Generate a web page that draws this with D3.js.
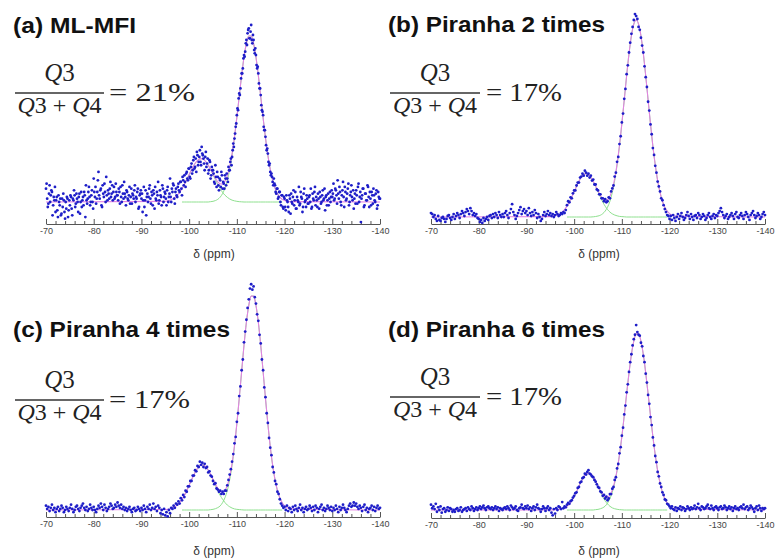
<!DOCTYPE html>
<html><head><meta charset="utf-8">
<script src="https://cdn.jsdelivr.net/npm/d3@7"></script>
<style>body{margin:0;background:#fff}svg{display:block}</style>
</head><body>
<svg id="c" width="776" height="558"></svg>
<script>
// ---------- data ----------
const panelTitles = ["(a) ML-MFI", "(b) Piranha 2 times", "(c) Piranha 4 times", "(d) Piranha 6 times"];
const ratioLabels = ["21%", "17%", "17%", "17%"];
const tickValues = [-70, -80, -90, -100, -110, -120, -130, -140];
const tickLabels = ["-70", "-80", "-90", "-100", "-110", "-120", "-130", "-140"];
const axisTitle = "δ (ppm)";

// measured spectra, ppm -70 .. -140 every 0.25 ppm (intensity: baseline 0, main fit peak 100)
const specA = [
 8,2,-1,10,4,6,-2,1,-6,3,-9,0,2,-7,-3,1,-10,-4,2,-5,
 -2,3,-8,1,4,-1,2,-6,5,0,-3,3,6,-9,1,2,9,-2,4,0,
 14,3,-1,6,18,2,8,-3,5,11,0,4,7,2,12,5,1,9,3,6,
 4,8,-1,3,10,2,5,-2,6,1,9,3,-1,4,7,0,2,8,-3,5,
 2,-6,9,1,-8,5,3,10,-1,4,7,-4,2,6,12,1,4,-2,8,3,
 5,-2,9,3,14,0,6,10,-1,8,3,11,6,12,4,13,16,9,18,13,
 20,14,23,19,27,21,18,28,24,31,22,29,26,19,30,23,17,25,14,21,
 19,12,22,9,15,7,13,18,8,11,16,10,14,21,19,26,27,35,38,45,
 52,55,65,68,77,80,88,90,97,101,104,98,106,95,97,89,88,80,77,68,
 64,55,52,43,39,31,29,22,18,17,12,14,10,5,8,3,6,-2,4,-4,
 2,-5,1,-3,4,-7,0,3,-2,6,-4,1,9,-1,3,-6,5,0,-3,2,
 -1,4,8,-3,2,6,-2,1,5,-4,3,0,7,2,-5,4,1,-2,6,3,
 3,11,2,7,-1,5,9,0,4,12,-3,6,2,8,-2,4,10,1,-4,5,
 7,-1,11,3,-12,4,8,-2,5,1,9,-3,2,6,-1,4,0,7,-2,3,
 2];
// panel (a) second interleaved scan points, ppm -70.125 .. -139.875 every 0.25 ppm
const specA2 = [
 11,-3,5,0,7,-8,3,9,1,-5,4,-2,-8,2,5,-6,0,3,-9,1,
 4,-4,2,7,-3,5,0,3,-7,6,1,-2,4,10,-1,6,3,0,7,-4,
 6,9,2,13,4,7,-2,10,3,6,15,1,5,8,3,10,6,2,11,4,
 1,6,9,0,5,12,3,7,2,4,-1,8,5,2,10,3,6,-4,4,7,
 5,1,-3,7,3,0,8,2,6,-2,5,9,1,4,-1,7,3,10,0,6,
 2,7,0,5,3,8,11,2,6,4,9,7,12,8,15,10,12,17,14,20,
 15,21,17,25,20,26,30,22,27,24,33,28,23,27,21,26,19,24,16,19,
 17,11,15,18,10,14,9,16,12,8,14,17,12,19,24,22,31,33,41,47,
 56,62,64,74,77,86,87,95,94,103,98,102,97,100,91,92,82,81,71,68,
 58,54,45,43,34,32,24,23,16,15,10,11,6,8,2,6,0,4,-3,3,
 -3,4,0,-6,2,5,-1,7,1,-4,3,0,-2,6,2,-3,8,1,4,-1,
 3,0,-4,5,1,9,3,-3,2,6,-1,4,1,8,3,-2,5,2,0,7,
 5,1,8,4,13,2,6,-2,7,3,9,1,5,11,0,6,3,7,2,-1,
 4,9,0,6,2,8,-3,5,1,10,3,6,-2,4,8,1,5,-4,6,2];
const specB = [
 2,1.5,0,1,-1,-2,0.5,-1.5,-2,-0.5,0,-1,-2.5,-1,0.5,1,-0.5,-1.5,0,1.5,
 -1,0.5,2,1,-0.5,1.5,3,2,0.5,2.5,4,3,1.5,4.5,3,1,2,0.5,1.5,-0.5,
 -1,-2.5,-1.5,-3,-0.5,-2,-1,0,-1.5,0.5,1,-0.5,1.5,0,2,1,-0.5,2.5,1,0,
 1.5,0,2,3,1,-0.5,2,4,6.5,2.5,1,-1,0.5,2,3.5,5,1.5,3,4,2,
 3,1,4.5,2,0.5,2.5,1,3.5,2,-0.5,1.5,0,-2,-1,1,2.5,0.5,1.5,3,1,
 2,0.5,1.5,0,1,2.5,1.5,0.5,1,2,1.5,2.5,2,3.5,6,8,7.5,10,9.5,12,
 13.5,13.5,16,17.5,17.5,20,20.5,22,21,23.5,22.5,21,22,20,21,18.5,19,16.5,16.5,14,
 13.5,11.5,11.5,9.5,9.5,8,9,7.5,8,10,9.5,13,14.5,16,20.5,22.5,28,30.5,37,41,
 48,52.5,60,65,72.5,77,83.5,88.5,93,96.5,100,103,102,100.5,96.5,95,91,87,83.5,76.5,
 71,66,58.5,54,47,42,35,31.5,26,22.5,18,15.5,13,9.5,8.5,6,4,2.5,1,0.5,
 -1,0.5,-1.5,1,-0.5,-2,0,1.5,-1,0.5,2,0,-1.5,-0.5,1,2.5,0.5,-1,1.5,0,
 -1.5,0.5,1,-0.5,2,1,-1,0,1.5,0.5,-1.5,-0.5,1,2,0,-1,0.5,1.5,-0.5,1,
 0.5,2,3,4.5,2.5,1,-0.5,0.5,1.5,-1,0,1,2,0.5,-1,1.5,2.5,0,-0.5,1,
 2,0.5,-1,1,2.5,1.5,0,-1.5,1,2,3,1,-0.5,0.5,2,1,-1,0,1.5,2.5,
 1];
const specC = [
 2,0.5,1.5,-0.5,1,2.5,0,1,-1,0.5,1.5,-0.5,0.5,2,1,-1,0,1.5,0.5,-0.5,
 1,2.5,0.5,-1,0,1.5,2,0.5,-0.5,1,2,3,1,0,1.5,-0.5,0.5,2.5,1,0,
 1.5,0,-1,0.5,2,1,3,1.5,0,2.5,1,-0.5,0.5,1.5,3,2,0.5,1,2.5,1.5,
 3.5,2,1,2.5,0.5,1.5,0,1,-0.5,0.5,1.5,0,-1,0.5,1,-0.5,0,1.5,0.5,-0.5,
 1,0,2,0.5,-1,1.5,0.5,2.5,0,1,3,0.5,1.5,-0.5,2,1,-1.5,0,-2,0.5,
 -2.5,-1,-3,0,-1.5,1,0.5,2,1,3,2.5,4,3,5.5,4.5,7,6,9,8.5,11,
 11,13.5,13.5,16,16,18.5,18,20.5,20,22.5,21,22,20,21.5,19.5,20,17.5,18,16,15.5,
 13.5,12,12.5,10,9.5,8.5,9,7.5,8.5,7.5,9,9,11.5,14,16.5,19,22.5,26,31,34,
 41,45,53,57.5,65,70,78,83,88.5,94,98,103,105,102.5,104,99,96,91,88,81.5,
 77.5,70,65,57,52.5,45,40.5,33.5,29,25.5,20,17.5,13.5,12,8.5,7.5,5,3,2,1,
 1.5,0,2,-0.5,1,0.5,-1,1.5,0,2,0.5,-0.5,1,2.5,0,1,-1,0.5,1.5,0,
 0.5,2,1,-0.5,1.5,0,2,1,-1,0.5,1.5,2.5,0,1,-0.5,0.5,2,1,0,1.5,
 -0.5,1,0,2,0.5,-1,1.5,0,1,2.5,1,0,-1,0.5,2,3,1.5,2,3.5,2,
 3,1.5,0.5,2,1,-0.5,1.5,2.5,0,1,-1,0.5,1,2,0,1.5,-0.5,1,2,0.5,
 1];
const specD = [
 3,1,2,0.5,3.5,-1,1.5,0,2,-1.5,0.5,1,-1,0,1.5,-0.5,1,0.5,-1,0,
 -1,0.5,1,-0.5,0,1.5,-1,0,0.5,1,-0.5,1.5,0.5,0,2,1,-0.5,0.5,1.5,0,
 1,2,0.5,1.5,2.5,1,0,1.5,2,1,0.5,1.5,0,1,2,0.5,1.5,-0.5,1,0.5,
 0,1,1.5,0.5,2,1,0,2.5,1.5,0.5,1,2,0,-0.5,1,1.5,3,1,0.5,2,
 1,2.5,0.5,1.5,-0.5,1,2,0,1.5,3,1,0.5,-1,0.5,2,1,-0.5,1,2,0,
 1,-1.5,-3,0.5,-2,1,0,2,1.5,0.5,4.5,1,2,1.5,3,4,3.5,5,5.5,7,
 8,9.5,10,12.5,13,15.5,16,18,18.5,20.5,20,21.5,22.5,20.5,20,19,18.5,17,16,14.5,
 13,12.5,10.5,10,8,8.5,6.5,7.5,5.5,6.5,9,9,12,13,17,18.5,23.5,26,32,35.5,
 42,46.5,54,59,66.5,71,78,83.5,88,93,96.5,99,104.5,100.5,99,98.5,94.5,92.5,87,83.5,
 77,72,65,60,52.5,48,41,36.5,30.5,27,21.5,19,15,13,10,8.5,6,5.5,3.5,3,
 2,1,2,0.5,0,1.5,-0.5,1,0.5,2,0,1.5,1,-0.5,0.5,2,1,0,1.5,0.5,
 1,2.5,0.5,1.5,3.5,1,0,2,1.5,0.5,1,2,3,1,0.5,2.5,1,0,1.5,2,
 1,0,1.5,2,0.5,1,2.5,1.5,0,1,2,0.5,1.5,-0.5,1,2,0.5,1,0,1.5,
 2,1,3,0.5,1.5,2,0,1,2.5,1.5,0.5,-1,1,2,0,2.5,1,-0.5,1,0.5,
 1];

// total fit (magenta), ppm -95 .. -121 every 0.5 ppm (0 elsewhere)
const fitA = [0.4,0.7,1.1,1.8,2.8,4.1,5.8,8.0,10.5,13.4, 16.4,19.3,22.0,24.1,25.5,26.0,25.5,24.1,22.0,19.5, 16.9,14.3,12.1,10.9,10.8,12.4,15.8,21.3,29.1,39.1, 50.8,63.4,75.8,86.8,95.0,99.4,99.4,95.0,86.8,75.8, 63.2,50.4,38.4,28.0,19.5,13.0,8.3,5.0,2.9,1.6, 0.9,0.4,0.2];
const fitB = [0.2,0.3,0.6,1.0,1.6,2.5,3.8,5.5,7.6,10.1, 12.8,15.5,18.1,20.2,21.5,22.0,21.5,20.2,18.2,15.8, 13.3,11.0,9.3,8.5,8.8,10.5,14.1,19.5,27.0,36.3, 47.5,59.4,71.7,82.9,92.0,97.9,100,97.9,92.0,82.9, 71.7,59.4,47.3,36.0,26.4,18.5,12.5,8.0,5.0,3.0, 1.7,0.9,0.5];
const fitC = [0.2,0.3,0.5,0.9,1.5,2.3,3.5,5.0,6.8,9.0, 11.5,14.0,16.4,18.5,20.1,20.9,20.9,20.1,18.5,16.6, 14.3,12.1,10.1,8.7,8.4,9.2,11.4,15.6,21.7,30.0, 40.3,51.9,64.4,76.7,87.3,95.2,99.5,99.5,95.2,87.3, 76.7,64.4,51.9,40.0,29.5,20.8,14.1,9.1,5.7,3.4, 1.9,1.1,0.6];
const fitD = [0,0.05,0.1,0.2,0.4,0.7,1.2,2.1,3.4,5.2, 7.5,10.3,13.3,16.3,18.7,20.4,21.0,20.4,18.7,16.5, 13.6,11.0,8.8,7.4,7.3,8.5,11.3,16.0,22.6,31.2, 41.5,53.3,65.6,77.5,87.8,95.4,99.5,99.5,95.4,87.8, 77.5,65.6,53.3,41.5,31.0,22.2,15.3,10.1,6.4,3.9, 2.2,1.25,0.7];

// deconvoluted components (green), ppm -98.5 .. -119.5 every 0.5 ppm
const q3A = [8.0,10.5,13.4,16.4,19.3,22.0,24.1,25.5,26.0,25.5, 24.1,22.0,19.3,16.4,13.4,10.5,8.0,5.8,4.1,2.8, 1.8,1.1,0.7,0.4,0.2,0.1, 0,0,0,0,0,0,0,0,0,0,0,0,0,0,0,0,0];
const q4A = [0,0,0,0,0,0,0,0,0,0,0,0, 0.2,0.4,0.85,1.6,2.9,5.0,8.3,13.0,19.5,28.0, 38.4,50.4,63.2,75.8,86.8,95.0,99.4,99.4,95.0,86.8, 75.8,63.2,50.4,38.4,28.0,19.5,13.0,8.3,5.0,2.9,1.6];
const q3B = [5.5,7.6,10.1,12.8,15.5,18.1,20.2,21.5,22.0,21.5, 20.2,18.1,15.5,12.8,10.1,7.6,5.5,3.8,2.5,1.6, 1.0,0.6,0.3,0.2,0.1,0, 0,0,0,0,0,0,0,0,0,0,0,0,0,0,0,0,0];
const q4B = [0,0,0,0,0,0,0,0,0,0,0,0.1, 0.25,0.5,0.9,1.7,3.0,5.0,8.0,12.5,18.5,26.4, 36.0,47.3,59.4,71.7,82.9,92.0,97.9,100,97.9,92.0, 82.9,71.7,59.4,47.3,36.0,26.4,18.5,12.5,8.0,5.0,3.0];
const q3C = [5.0,6.8,9.0,11.5,14.0,16.4,18.5,20.1,20.9,20.9, 20.1,18.5,16.4,14.0,11.5,9.0,6.8,5.0,3.5,2.3, 1.5,0.9,0.5,0.3,0.2,0.1, 0,0,0,0,0,0,0,0,0,0,0,0,0,0,0,0,0];
const q4C = [0,0,0,0,0,0,0,0,0,0,0,0, 0.15,0.3,0.6,1.1,1.9,3.4,5.7,9.1,14.1,20.8, 29.5,40.0,51.9,64.4,76.7,87.3,95.2,99.5,99.5,95.2, 87.3,76.7,64.4,51.9,40.0,29.5,20.8,14.1,9.1,5.7,3.4];
const q3D = [2.1,3.4,5.2,7.5,10.3,13.3,16.3,18.7,20.4,21.0, 20.4,18.7,16.3,13.3,10.3,7.5,5.2,3.4,2.1,1.2, 0.7,0.4,0.2,0.1,0,0, 0,0,0,0,0,0,0,0,0,0,0,0,0,0,0,0,0];
const q4D = [0,0,0,0,0,0,0,0,0,0,0,0, 0.2,0.35,0.7,1.25,2.2,3.9,6.4,10.1,15.3,22.2, 31.0,41.5,53.3,65.6,77.5,87.8,95.4,99.5,99.5,95.4, 87.8,77.5,65.6,53.3,41.5,31.0,22.2,15.3,10.1,6.4,3.9];

// ---------- drawing ----------
const specPpm = d3.range(specA.length).map(i => -70 - 0.25 * i);
const specPpm2 = d3.range(specA2.length).map(i => -70.125 - 0.25 * i);
const fitPpm = d3.range(fitA.length).map(i => -95 - 0.5 * i);
const compPpm = d3.range(q3A.length).map(i => -98.5 - 0.5 * i);
const minorTicks = d3.range(-72, -140, -2).filter(v => v % 10 !== 0);

const sets = [
  {pts: specPpm.map((p, i) => [p, specA[i]]).concat(specPpm2.map((p, i) => [p, specA2[i]])), fit: fitA, q3: q3A, q4: q4A},
  {pts: specPpm.map((p, i) => [p, specB[i]]), fit: fitB, q3: q3B, q4: q4B},
  {pts: specPpm.map((p, i) => [p, specC[i]]), fit: fitC, q3: q3C, q4: q4C},
  {pts: specPpm.map((p, i) => [p, specD[i]]), fit: fitD, q3: q3D, q4: q4D}
];
const layout = [
  {x0: 46, x1: 380, axisY: 224, base: 202, top: 35, titleX: 13, titleY: 33, titleW: 123, barY: 93, barX0: 15, barX1: 104, eqX0: 108, eqX1: 195, axTitleY: 258},
  {x0: 431, x1: 765, axisY: 224, base: 217, top: 20, titleX: 388, titleY: 32, titleW: 217, barY: 93, barX0: 390, barX1: 480, eqX0: 485, eqX1: 562, axTitleY: 258},
  {x0: 46, x1: 380, axisY: 517, base: 510, top: 295, titleX: 13, titleY: 337, titleW: 217, barY: 400, barX0: 15, barX1: 104, eqX0: 108, eqX1: 190, axTitleY: 555},
  {x0: 431, x1: 765, axisY: 518, base: 510, top: 333, titleX: 388, titleY: 337, titleW: 217, barY: 397, barX0: 390, barX1: 480, eqX0: 485, eqX1: 562, axTitleY: 555}
];

const svg = d3.select("#c");

layout.forEach((L, k) => {
  const D = sets[k];
  const x = d3.scaleLinear().domain([-70, -140]).range([L.x0, L.x1]);
  const y = d3.scaleLinear().domain([0, 100]).range([L.base, L.top]);
  const g = svg.append("g");

  // axis
  const ax = g.append("g").attr("transform", `translate(0,${L.axisY})`)
    .call(d3.axisBottom(x).tickValues(tickValues).tickFormat((d, i) => tickLabels[i])
      .tickSizeInner(-5).tickSizeOuter(0).tickPadding(4));
  ax.select(".domain").attr("stroke", "#555");
  ax.selectAll(".tick line").attr("stroke", "#555");
  ax.selectAll(".tick text").attr("font-family", "'Liberation Sans', Arial, sans-serif")
    .attr("font-size", 9).attr("fill", "#444");
  const mn = g.append("g").attr("transform", `translate(0,${L.axisY})`)
    .call(d3.axisBottom(x).tickValues(minorTicks).tickSize(-3).tickFormat(""));
  mn.select(".domain").remove();
  mn.selectAll(".tick line").attr("stroke", "#555");

  g.append("text").attr("x", (L.x0 + L.x1) / 2 + 1).attr("y", L.axTitleY)
    .attr("text-anchor", "middle").attr("font-family", "'Liberation Sans', Arial, sans-serif")
    .attr("font-size", 12).attr("fill", "#333").text(axisTitle);

  const line = d3.line().x(d => x(d[0])).y(d => y(d[1])).curve(d3.curveMonotoneX);

  // components
  [D.q3, D.q4].forEach(arr => {
    g.append("path").attr("d", line(compPpm.map((p, i) => [p, arr[i]])))
      .attr("fill", "none").attr("stroke", "#8fe08f").attr("stroke-width", 1);
  });
  // total fit
  const fitPts = [[-70, 0]].concat(fitPpm.map((p, i) => [p, D.fit[i]]), [[-140, 0]]);
  g.append("path").attr("d", line(fitPts)).attr("fill", "none")
    .attr("stroke", "#e283e2").attr("stroke-width", 1.1);

  // spectrum points
  g.append("g").selectAll("circle").data(D.pts)
    .join("circle").attr("cx", d => x(d[0])).attr("cy", d => y(d[1]))
    .attr("r", 1.4).attr("fill", "#1e1ec8");

  // title
  g.append("text").attr("x", L.titleX).attr("y", L.titleY)
    .attr("font-family", "'Liberation Sans', Arial, sans-serif").attr("font-weight", "bold")
    .attr("font-size", 22).attr("fill", "#111")
    .attr("textLength", L.titleW).attr("lengthAdjust", "spacingAndGlyphs")
    .text(panelTitles[k]);

  // ratio formula
  const f = g.append("g").attr("font-family", "'Liberation Serif', 'Times New Roman', serif")
    .attr("fill", "#222");
  const cx = (L.barX0 + L.barX1) / 2;
  const num = f.append("text").attr("x", cx).attr("y", L.barY - 12).attr("text-anchor", "middle")
    .attr("font-size", 25);
  num.append("tspan").attr("font-style", "italic").text("Q");
  num.append("tspan").text("3");
  f.append("line").attr("x1", L.barX0).attr("x2", L.barX1).attr("y1", L.barY).attr("y2", L.barY)
    .attr("stroke", "#333").attr("stroke-width", 1.6);
  const den = f.append("text").attr("x", cx).attr("y", L.barY + 20).attr("text-anchor", "middle")
    .attr("font-size", 24);
  den.append("tspan").attr("font-style", "italic").text("Q");
  den.append("tspan").text("3\u00A0+\u00A0");
  den.append("tspan").attr("font-style", "italic").text("Q");
  den.append("tspan").text("4");
  f.append("text").attr("x", L.eqX0 + 1).attr("y", L.barY + 8).attr("font-size", 26)
    .attr("textLength", L.eqX1 - L.eqX0 - 1).attr("lengthAdjust", "spacingAndGlyphs")
    .text("=\u00A0" + ratioLabels[k]);
});
</script>
</body></html>
